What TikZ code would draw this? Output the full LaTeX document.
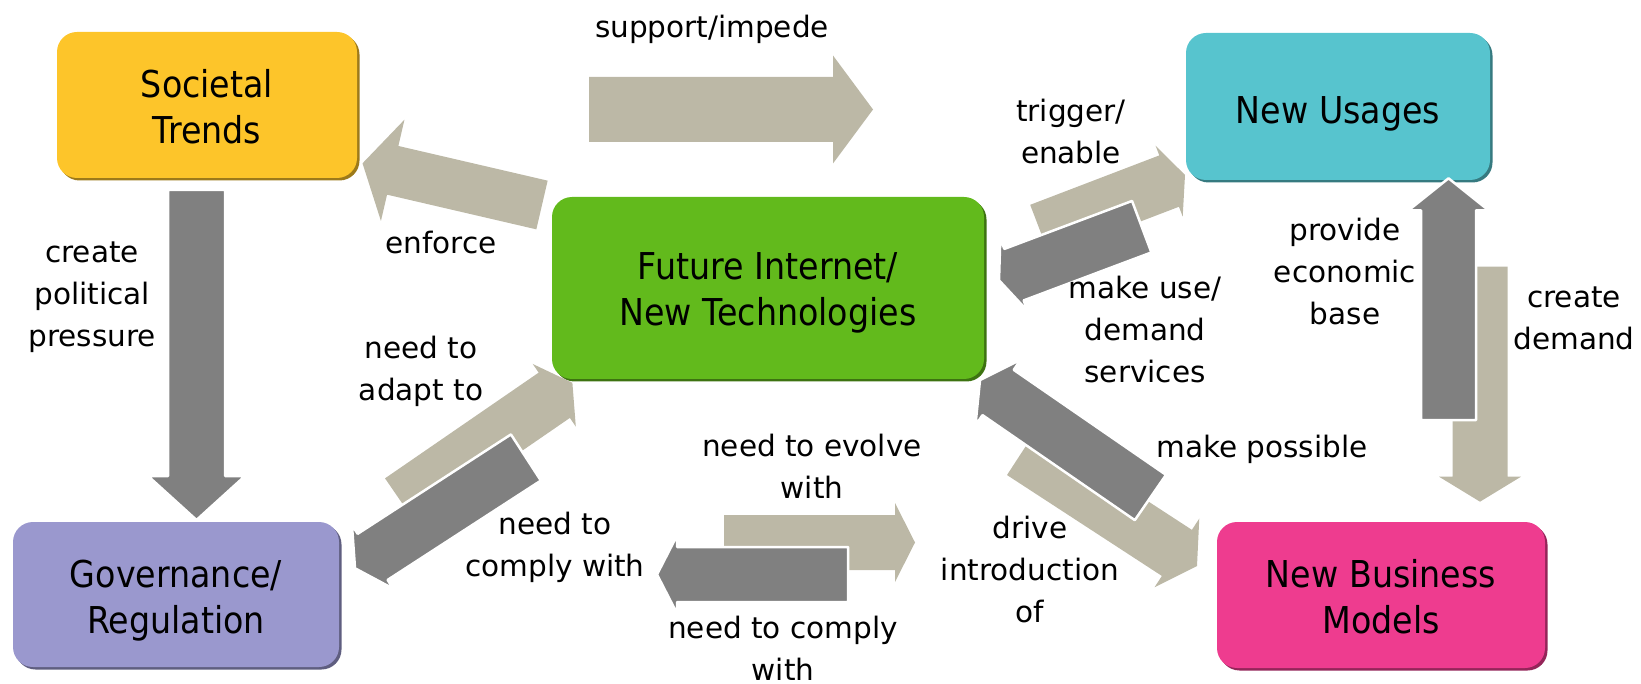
\documentclass[tikz,border=0pt]{standalone}
\usepackage{fontspec}
\setmainfont{DejaVu Sans}
\newfontfamily\boxfont[FakeStretch=0.9]{DejaVu Sans}
\usetikzlibrary{calc,shadows}
\definecolor{cST}{HTML}{FDC52A}
\definecolor{cNU}{HTML}{57C4CE}
\definecolor{cFI}{HTML}{62BA1C}
\definecolor{cGR}{HTML}{9A98CE}
\definecolor{cNB}{HTML}{EE3C8F}
\definecolor{beige}{HTML}{BCB8A6}
\definecolor{darkg}{HTML}{808080}
% #1 style, #2 tail coordinate, #3 tip coordinate, #4 shaft width, #5 head width, #6 head length
\newcommand\blockarrow[6]{%
  \path let \p1=($(#3)-(#2)$) in
    \pgfextra{\pgfmathsetmacro\baang{atan2(\y1,\x1)}\pgfmathsetmacro\balen{veclen(\x1,\y1)}\xdef\baA{\baang}\xdef\baL{\balen}};
  \begin{scope}[shift={(#2)},rotate=\baA]
    \pgfmathsetmacro\bab{\baL-#6}
    \filldraw[#1] (0,-#4/2) -- (\bab,-#4/2) -- (\bab,-#5/2) -- (\baL,0) -- (\bab,#5/2) -- (\bab,#4/2) -- (0,#4/2) -- cycle;
  \end{scope}}
\begin{document}
\begin{tikzpicture}[x=1pt,y=1pt,
  box/.style={fill=#1, rounded corners=20pt, inner sep=0pt,
    drop shadow={shadow xshift=2.5pt, shadow yshift=-2.5pt, fill=#1!62!black, opacity=1}},
  boxtext/.style={font=\boxfont\fontsize{37}{46}\selectfont, align=center, inner sep=0pt},
  lab/.style={font=\fontsize{29.5}{42}\selectfont, align=center, inner sep=0pt},
  beigearr/.style={fill=beige, draw=none},
  grayarr/.style={fill=darkg, draw=white, line width=2.5pt, line join=round}]
\useasboundingbox (0,0) rectangle (1641,-684);

% boxes
\node[box=cST, minimum width=300pt, minimum height=146pt] (ST) at (207,-105) {};
\node[box=cNU, minimum width=304pt, minimum height=147pt] (NU) at (1338,-106.5) {};
\node[box=cFI, minimum width=432pt, minimum height=182pt] (FI) at (768,-288) {};
\node[box=cGR, minimum width=326pt, minimum height=145pt] (GR) at (176,-594.5) {};
\node[box=cNB, minimum width=328pt, minimum height=146pt] (NB) at (1381,-595) {};
\node[boxtext] (STt) at ($(ST)+(0,-2)$) {Societal\\Trends};
\node[boxtext] (NUt) at ($(NU)+(0,-7)$) {New Usages};
\node[boxtext] (FIt) at ($(FI)+(0,-5)$) {Future Internet/\\New Technologies};
\node[boxtext] (GRt) at ($(GR)+(0,-6)$) {Governance/\\Regulation};
\node[boxtext] (NBt) at ($(NB)+(0,-2)$) {New Business\\Models};

% arrow end points
\coordinate (supT) at (589,-109.5);   \coordinate (supP) at (873,-109.5);
\coordinate (enfT) at (542,-205);     \coordinate (enfP) at (362.5,-163.3);
\coordinate (polT) at (196.5,-190);   \coordinate (polP) at (196.5,-520);
\coordinate (trgT) at (1040,-230.5);  \coordinate (trgP) at (1185,-175);
\coordinate (useT) at (1141.7,-226.7);\coordinate (useP) at (999,-280.3);
\coordinate (adpT) at (400.6,-501);   \coordinate (adpP) at (572.4,-382.8);
\coordinate (cgrT) at (525.9,-457.5); \coordinate (cgrP) at (355,-568.3);
\coordinate (posT) at (1150.4,-497.5);\coordinate (posP) at (980,-380);
\coordinate (drvT) at (1022,-452);    \coordinate (drvP) at (1197,-566);
\coordinate (evoT) at (724,-542.5);   \coordinate (evoP) at (915,-542.5);
\coordinate (cmpT) at (848,-574.5);   \coordinate (cmpP) at (657,-574.5);
\coordinate (prvT) at (1448.5,-420);  \coordinate (prvP) at (1448.5,-178.3);
\coordinate (dmdT) at (1480,-266.7);  \coordinate (dmdP) at (1480,-501.7);

% beige arrows
\blockarrow{beigearr}{supT}{supP}{65}{108}{40}
\blockarrow{beigearr}{enfT}{enfP}{50}{104}{31}
\blockarrow{beigearr}{trgT}{trgP}{55}{76}{17}
\blockarrow{beigearr}{adpT}{adpP}{55}{76}{22}
\blockarrow{beigearr}{drvT}{drvP}{55}{82}{24}
\blockarrow{beigearr}{evoT}{evoP}{55}{79}{20}
\blockarrow{beigearr}{dmdT}{dmdP}{55}{82}{25}
% gray arrows
\blockarrow{grayarr}{polT}{polP}{57}{97}{44}
\blockarrow{grayarr}{useT}{useP}{55}{78}{16}
\blockarrow{grayarr}{cgrT}{cgrP}{55}{76}{21}
\blockarrow{grayarr}{posT}{posP}{55}{80}{22}
\blockarrow{grayarr}{cmpT}{cmpP}{55}{78}{20}
\blockarrow{grayarr}{prvT}{prvP}{55}{80}{32}

% labels
\node[lab] (l1) at (712,-29.3) {support/impede};
\node[lab] (l2) at (441,-242.8) {enforce};
\node[lab] (l3) at (92,-297) {create\\political\\pressure};
\node[lab] (l4) at (1071,-131.3) {trigger/\\enable};
\node[lab] (l5) at (1145,-329.8) {make use/\\demand\\services};
\node[lab] (l6) at (1345,-271.8) {provide\\economic\\base};
\node[lab] (l7) at (1574,-318.5) {create\\demand};
\node[lab] (l8) at (421,-371.3) {need to\\adapt to};
\node[lab] (l9) at (555,-547.3) {need to\\comply with};
\node[lab] (l10) at (812,-466.3) {need to evolve\\with};
\node[lab] (l11) at (783,-647.8) {need to comply\\with};
\node[lab] (l12) at (1030,-569.8) {drive\\introduction\\of};
\node[lab] (l13) at (1262,-449.3) {make possible};
\end{tikzpicture}
\end{document}
